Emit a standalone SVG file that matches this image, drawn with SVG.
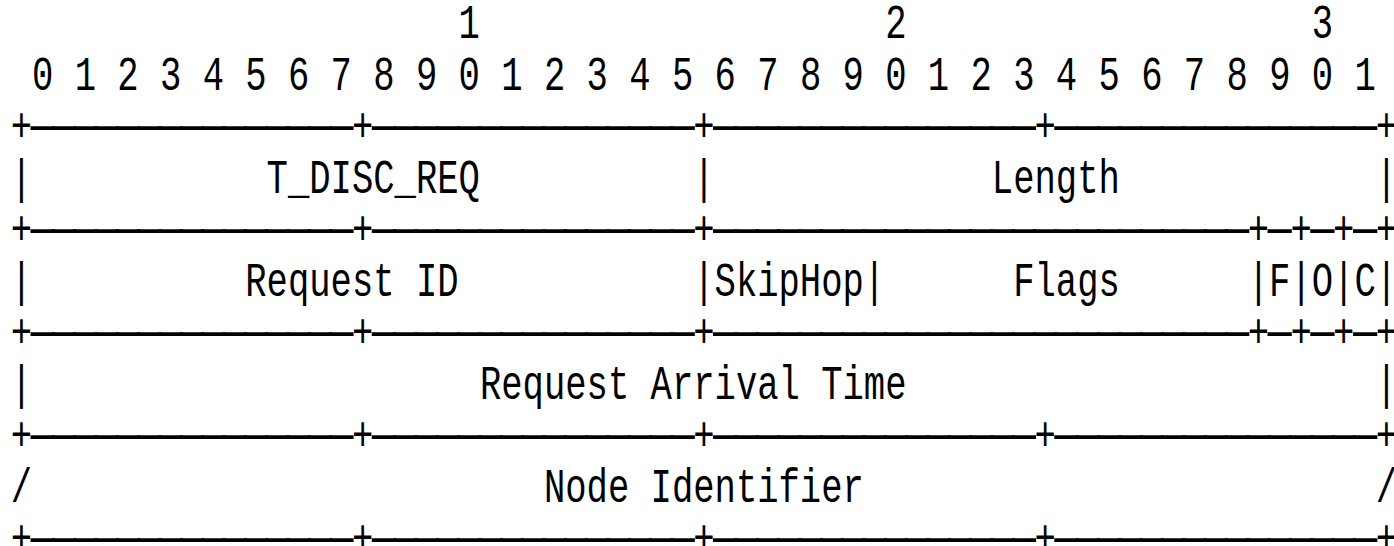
<svg xmlns="http://www.w3.org/2000/svg" width="1394" height="546" viewBox="0 0 1394 546" xml:space="preserve">
<style>
text { font-family: "Liberation Mono", "DejaVu Sans Mono", monospace; font-size: 48px; fill: #000; white-space: pre; }
.d { letter-spacing: -17.3px; }
</style>
<rect width="1394" height="546" fill="#fff"/>
<g id="bit-ruler">
<text x="458.6" y="38" textLength="874.5" lengthAdjust="spacingAndGlyphs">1                   2                   3</text>
<text x="32" y="89.5" textLength="1343.8" lengthAdjust="spacingAndGlyphs">0 1 2 3 4 5 6 7 8 9 0 1 2 3 4 5 6 7 8 9 0 1 2 3 4 5 6 7 8 9 0 1</text>
</g>
<g id="border-1">
<text y="141"><tspan x="10.67" textLength="21.33" lengthAdjust="spacingAndGlyphs">+</tspan><tspan class="d" x="16" textLength="320" lengthAdjust="spacingAndGlyphs">---------------</tspan><tspan x="352" textLength="21.33" lengthAdjust="spacingAndGlyphs">+</tspan><tspan class="d" x="357.3" textLength="320" lengthAdjust="spacingAndGlyphs">---------------</tspan><tspan x="693.2" textLength="21.33" lengthAdjust="spacingAndGlyphs">+</tspan><tspan class="d" x="698.6" textLength="320" lengthAdjust="spacingAndGlyphs">---------------</tspan><tspan x="1034.5" textLength="21.33" lengthAdjust="spacingAndGlyphs">+</tspan><tspan class="d" x="1039.8" textLength="320" lengthAdjust="spacingAndGlyphs">---------------</tspan><tspan x="1375.8" textLength="21.33" lengthAdjust="spacingAndGlyphs">+</tspan></text>
</g>
<g id="row-type-length">
<text x="10.67" y="192.5" textLength="1386.45" lengthAdjust="spacingAndGlyphs">|           T_DISC_REQ          |             Length            |</text>
</g>
<g id="border-2">
<text y="244"><tspan x="10.67" textLength="21.33" lengthAdjust="spacingAndGlyphs">+</tspan><tspan class="d" x="16" textLength="320" lengthAdjust="spacingAndGlyphs">---------------</tspan><tspan x="352" textLength="21.33" lengthAdjust="spacingAndGlyphs">+</tspan><tspan class="d" x="357.3" textLength="320" lengthAdjust="spacingAndGlyphs">---------------</tspan><tspan x="693.2" textLength="21.33" lengthAdjust="spacingAndGlyphs">+</tspan><tspan class="d" x="698.6" textLength="533.25" lengthAdjust="spacingAndGlyphs">-------------------------</tspan><tspan x="1247.8" textLength="21.33" lengthAdjust="spacingAndGlyphs">+</tspan><tspan class="d" x="1253.1" textLength="21.33" lengthAdjust="spacingAndGlyphs">-</tspan><tspan x="1290.5" textLength="21.33" lengthAdjust="spacingAndGlyphs">+</tspan><tspan class="d" x="1295.8" textLength="21.33" lengthAdjust="spacingAndGlyphs">-</tspan><tspan x="1333.1" textLength="21.33" lengthAdjust="spacingAndGlyphs">+</tspan><tspan class="d" x="1338.5" textLength="21.33" lengthAdjust="spacingAndGlyphs">-</tspan><tspan x="1375.8" textLength="21.33" lengthAdjust="spacingAndGlyphs">+</tspan></text>
</g>
<g id="row-request-flags">
<text x="10.67" y="295.5" textLength="1386.45" lengthAdjust="spacingAndGlyphs">|          Request ID           |SkipHop|      Flags      |F|O|C|</text>
</g>
<g id="border-3">
<text y="347"><tspan x="10.67" textLength="21.33" lengthAdjust="spacingAndGlyphs">+</tspan><tspan class="d" x="16" textLength="320" lengthAdjust="spacingAndGlyphs">---------------</tspan><tspan x="352" textLength="21.33" lengthAdjust="spacingAndGlyphs">+</tspan><tspan class="d" x="357.3" textLength="320" lengthAdjust="spacingAndGlyphs">---------------</tspan><tspan x="693.2" textLength="21.33" lengthAdjust="spacingAndGlyphs">+</tspan><tspan class="d" x="698.6" textLength="533.25" lengthAdjust="spacingAndGlyphs">-------------------------</tspan><tspan x="1247.8" textLength="21.33" lengthAdjust="spacingAndGlyphs">+</tspan><tspan class="d" x="1253.1" textLength="21.33" lengthAdjust="spacingAndGlyphs">-</tspan><tspan x="1290.5" textLength="21.33" lengthAdjust="spacingAndGlyphs">+</tspan><tspan class="d" x="1295.8" textLength="21.33" lengthAdjust="spacingAndGlyphs">-</tspan><tspan x="1333.1" textLength="21.33" lengthAdjust="spacingAndGlyphs">+</tspan><tspan class="d" x="1338.5" textLength="21.33" lengthAdjust="spacingAndGlyphs">-</tspan><tspan x="1375.8" textLength="21.33" lengthAdjust="spacingAndGlyphs">+</tspan></text>
</g>
<g id="row-arrival-time">
<text x="10.67" y="398.5" textLength="1386.45" lengthAdjust="spacingAndGlyphs">|                     Request Arrival Time                      |</text>
</g>
<g id="border-4">
<text y="450"><tspan x="10.67" textLength="21.33" lengthAdjust="spacingAndGlyphs">+</tspan><tspan class="d" x="16" textLength="320" lengthAdjust="spacingAndGlyphs">---------------</tspan><tspan x="352" textLength="21.33" lengthAdjust="spacingAndGlyphs">+</tspan><tspan class="d" x="357.3" textLength="320" lengthAdjust="spacingAndGlyphs">---------------</tspan><tspan x="693.2" textLength="21.33" lengthAdjust="spacingAndGlyphs">+</tspan><tspan class="d" x="698.6" textLength="320" lengthAdjust="spacingAndGlyphs">---------------</tspan><tspan x="1034.5" textLength="21.33" lengthAdjust="spacingAndGlyphs">+</tspan><tspan class="d" x="1039.8" textLength="320" lengthAdjust="spacingAndGlyphs">---------------</tspan><tspan x="1375.8" textLength="21.33" lengthAdjust="spacingAndGlyphs">+</tspan></text>
</g>
<g id="row-node-identifier">
<text x="10.67" y="501.5" textLength="1386.45" lengthAdjust="spacingAndGlyphs">/                        Node Identifier                        /</text>
</g>
<g id="border-5">
<text y="553"><tspan x="10.67" textLength="21.33" lengthAdjust="spacingAndGlyphs">+</tspan><tspan class="d" x="16" textLength="320" lengthAdjust="spacingAndGlyphs">---------------</tspan><tspan x="352" textLength="21.33" lengthAdjust="spacingAndGlyphs">+</tspan><tspan class="d" x="357.3" textLength="320" lengthAdjust="spacingAndGlyphs">---------------</tspan><tspan x="693.2" textLength="21.33" lengthAdjust="spacingAndGlyphs">+</tspan><tspan class="d" x="698.6" textLength="320" lengthAdjust="spacingAndGlyphs">---------------</tspan><tspan x="1034.5" textLength="21.33" lengthAdjust="spacingAndGlyphs">+</tspan><tspan class="d" x="1039.8" textLength="320" lengthAdjust="spacingAndGlyphs">---------------</tspan><tspan x="1375.8" textLength="21.33" lengthAdjust="spacingAndGlyphs">+</tspan></text>
</g>
</svg>
